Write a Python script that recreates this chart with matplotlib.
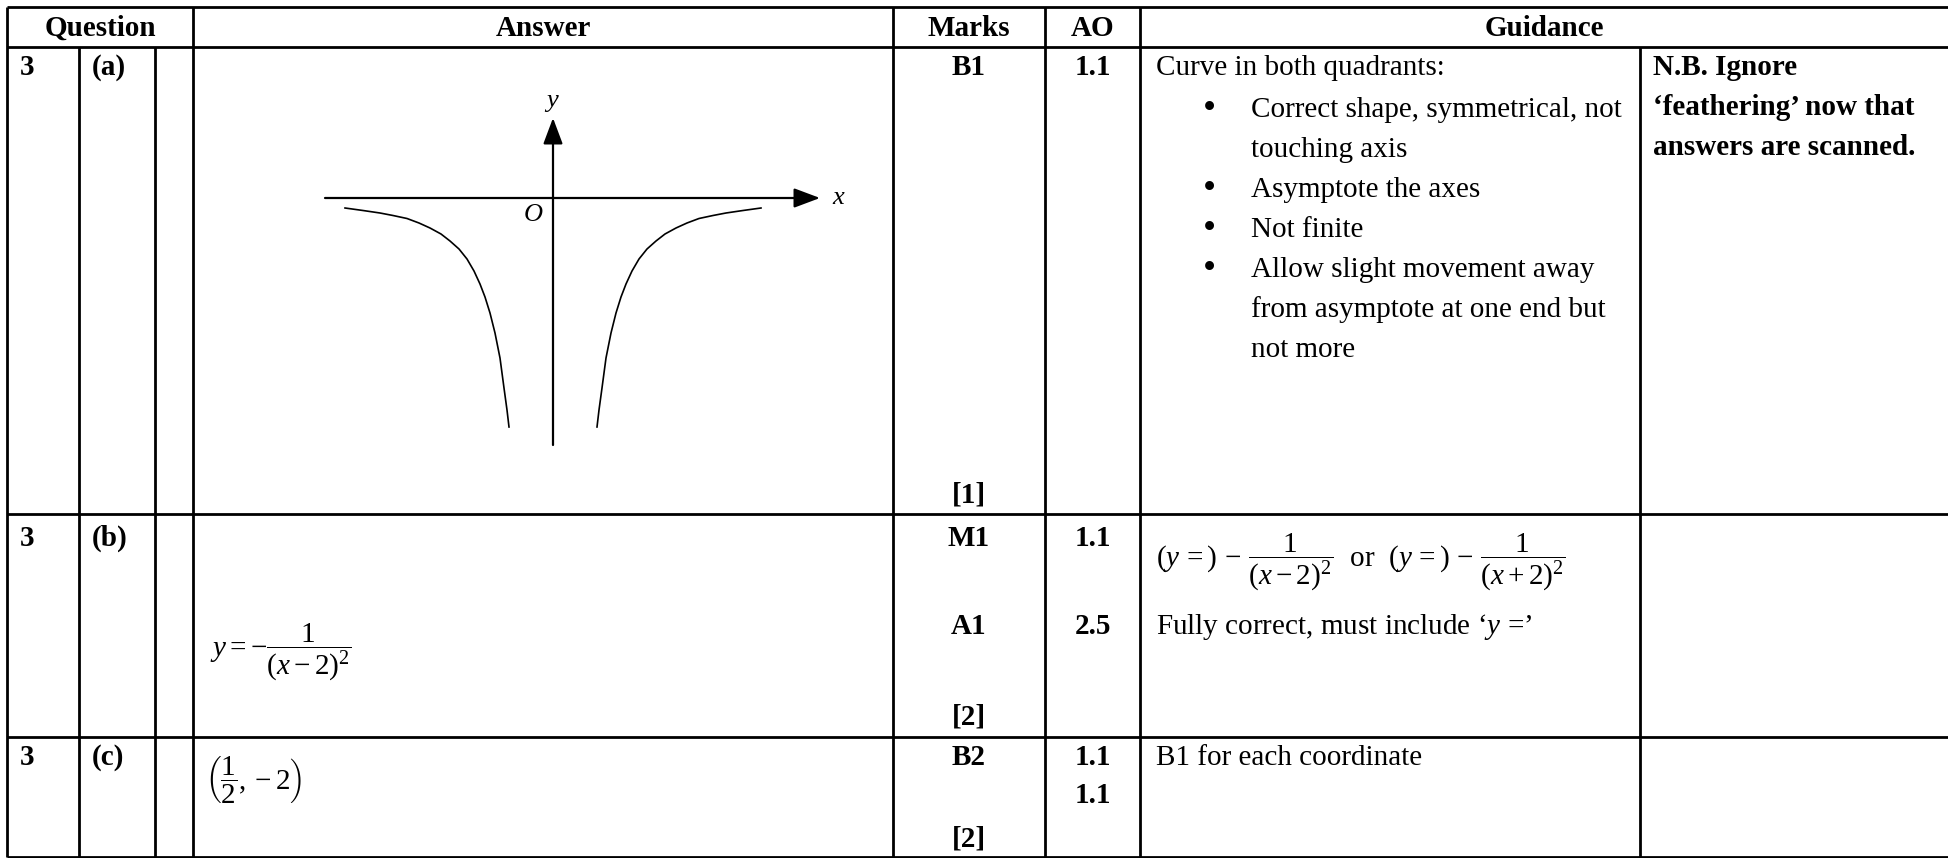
import matplotlib
matplotlib.use('Agg')
import matplotlib.pyplot as plt

plt.rcParams['font.family'] = ['Liberation Serif', 'DejaVu Serif']
plt.rcParams['mathtext.fontset'] = 'custom'
plt.rcParams['mathtext.rm'] = 'Liberation Serif'
plt.rcParams['mathtext.it'] = 'Liberation Serif:italic'
plt.rcParams['mathtext.bf'] = 'Liberation Serif:bold'

# table content
headers = ['Question', 'Answer', 'Marks', 'AO', 'Guidance']
question_num = ['3', '3', '3']
parts = ['(a)', '(b)', '(c)']
marks = [['B1', '[1]'], ['M1', 'A1', '[2]'], ['B2', '[2]']]
ao = [['1.1'], ['1.1', '2.5'], ['1.1', '1.1']]
answer_b = r'$y=-\dfrac{1}{(x-2)^2}$'
answer_c = r'$\left(\dfrac{1}{2},-2\right)$'
guid_a_head = 'Curve in both quadrants:'
guid_a_bullets = ['Correct shape, symmetrical, not', 'touching axis', 'Asymptote the axes',
                  'Not finite', 'Allow slight movement away', 'from asymptote at one end but',
                  'not more']
guid_a_bullet_on = [True, False, True, True, True, False, False]
guid_a_note = ['N.B. Ignore', '\u2018feathering\u2019 now that', 'answers are scanned.']
guid_b = [r'$(y\,=)\,-\,\dfrac{\ 1\ }{(x-2)^2}$  or  $(y\,=)\,-\,\dfrac{\ 1\ }{(x+2)^2}$',
          'Fully correct, must include \u2018$y$ =\u2019']
guid_c = ['B1 for each coordinate']

# sketch of y = -1/x^2 (sketch units)
curve_left_x = [-208, -190, -173, -160, -146, -134, -123, -112, -103, -94, -86, -79, -73, -68, -63, -58, -53, -49, -46, -44]
curve_left_y = [-10, -12.5, -15, -17.5, -20.5, -25, -30, -36, -43, -51, -61, -73, -86, -99, -115, -135, -160, -190, -212, -229]
curve_right_x = [208, 190, 173, 160, 146, 134, 123, 112, 103, 94, 86, 79, 73, 68, 63, 58, 53, 49, 46, 44]
curve_right_y = [-10, -12.5, -15, -17.5, -20.5, -25, -30, -36, -43, -51, -61, -73, -86, -99, -115, -135, -160, -190, -212, -229]

W, H = 1948, 858
fig = plt.figure(figsize=(W / 100, H / 100), dpi=100)
ax = fig.add_axes([0, 0, 1, 1])
ax.set_xlim(0, W)
ax.set_ylim(H, 0)
ax.axis('off')

lw = 2.0
fs = 21
col_x = [7, 79, 155, 193, 893, 1045, 1140, 1640]
row_y = [7, 47, 514, 737, 857]

# grid
for y in row_y:
    ax.plot([col_x[0], W], [y, y], color='black', lw=lw, solid_capstyle='butt')
for x in [col_x[0], col_x[3], col_x[4], col_x[5], col_x[6]]:
    ax.plot([x, x], [row_y[0], row_y[-1]], color='black', lw=lw, solid_capstyle='butt')
for x in [col_x[1], col_x[2], col_x[7]]:
    ax.plot([x, x], [row_y[1], row_y[-1]], color='black', lw=lw, solid_capstyle='butt')

# header
head_cx = [(col_x[0] + col_x[3]) / 2, (col_x[3] + col_x[4]) / 2, (col_x[4] + col_x[5]) / 2,
           (col_x[5] + col_x[6]) / 2, (col_x[6] + W) / 2]
for cx, h in zip(head_cx, headers):
    ax.text(cx, 36, h, ha='center', va='baseline', fontsize=fs, fontweight='bold')

# question / part / marks / AO columns
first_base = [75, 546, 765]
marks_base = [[75, 503], [546, 634, 725], [765, 846]]
ao_base = [[75], [546, 634], [765, 803]]
marks_cx = (col_x[4] + col_x[5]) / 2
ao_cx = (col_x[5] + col_x[6]) / 2
for i in range(3):
    ax.text(20, first_base[i], question_num[i], ha='left', va='baseline', fontsize=fs, fontweight='bold')
    ax.text(92, first_base[i], parts[i], ha='left', va='baseline', fontsize=fs, fontweight='bold')
    for m, yb in zip(marks[i], marks_base[i]):
        ax.text(marks_cx, yb, m, ha='center', va='baseline', fontsize=fs, fontweight='bold')
    for a, yb in zip(ao[i], ao_base[i]):
        ax.text(ao_cx, yb, a, ha='center', va='baseline', fontsize=fs, fontweight='bold')

# guidance row (a)
ax.text(1156, 75, guid_a_head, ha='left', va='baseline', fontsize=fs)
for k, (t, b) in enumerate(zip(guid_a_bullets, guid_a_bullet_on)):
    yb = 117 + 40 * k
    if b:
        ax.text(1209, yb + 2, '\u2022', ha='center', va='baseline', fontsize=27)
    ax.text(1251, yb, t, ha='left', va='baseline', fontsize=fs)
for k, t in enumerate(guid_a_note):
    ax.text(1653, 75 + 40 * k, t, ha='left', va='baseline', fontsize=fs, fontweight='bold')

# answers (b), (c)
ax.text(210, 652, answer_b, ha='left', va='center', fontsize=fs)
ax.text(205, 780, answer_c, ha='left', va='center', fontsize=fs)

# guidance (b), (c)
ax.text(1156, 562, guid_b[0], ha='left', va='center', fontsize=fs)
ax.text(1156, 634, guid_b[1], ha='left', va='baseline', fontsize=fs)
ax.text(1156, 765, guid_c[0], ha='left', va='baseline', fontsize=fs)

# sketch of the curve in answer (a)
ox, oy = 553, 198
gl, gr, gt, gb = 300, 860, 80, 460
gax = fig.add_axes([gl / W, 1 - gb / H, (gr - gl) / W, (gb - gt) / H])
gax.set_xlim(gl - ox, gr - ox)
gax.set_ylim(oy - gb, oy - gt)
gax.axis('off')
gax.patch.set_alpha(0)
arrow = dict(arrowstyle='-|>,head_length=0.8,head_width=0.3', color='black', lw=1.6,
             mutation_scale=20, shrinkA=0, shrinkB=0)
gax.annotate('', xy=(267, 0), xytext=(-228, 0), arrowprops=arrow)
gax.annotate('', xy=(0, 80), xytext=(0, -247), arrowprops=arrow)
gax.plot(curve_left_x, curve_left_y, color='black', lw=1.2)
gax.plot(curve_right_x, curve_right_y, color='black', lw=1.2)
gax.text(279, 0, '$x$', ha='left', va='center', fontsize=19)
gax.text(-1, 95, '$y$', ha='center', va='center', fontsize=19)
gax.text(-20, -17, '$O$', ha='center', va='center', fontsize=19)

fig.savefig('out.png', dpi=100, facecolor='white')
